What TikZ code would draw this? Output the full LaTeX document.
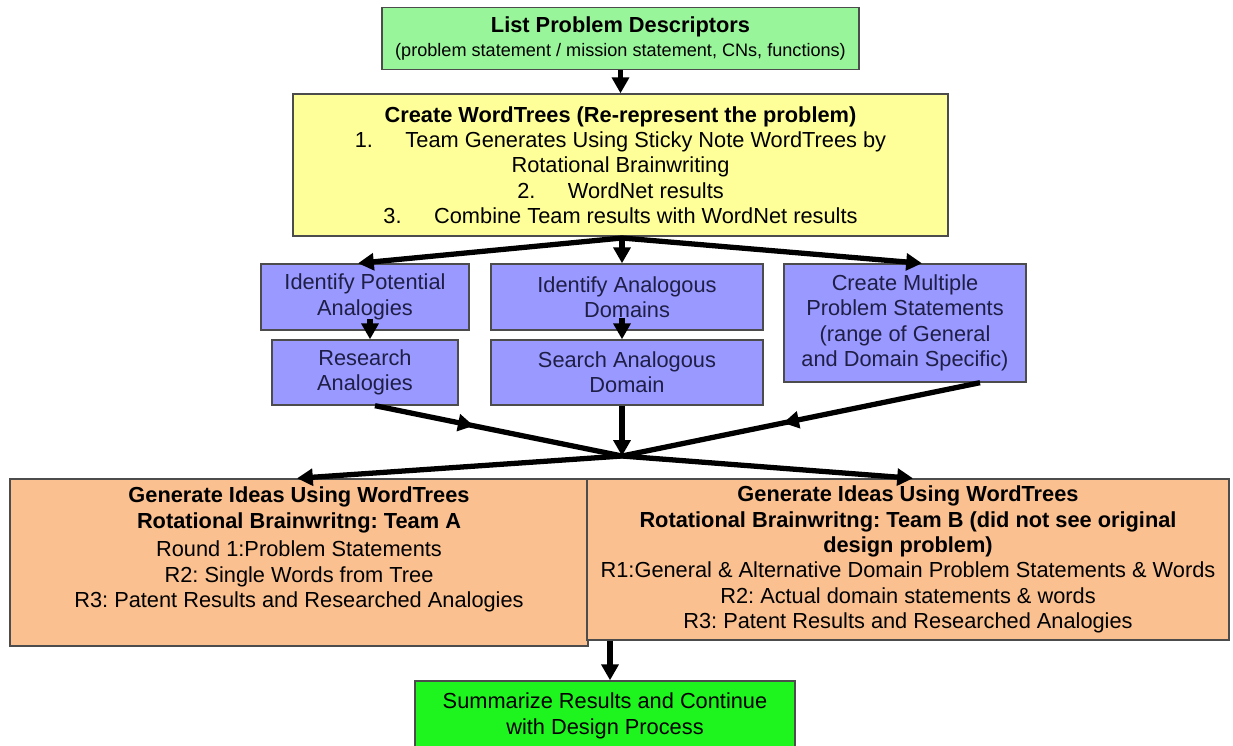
\documentclass[tikz,border=0pt]{standalone}
\usepackage{fontspec}
\setmainfont{Liberation Sans}
\usetikzlibrary{arrows.meta,decorations.markings}
\frenchspacing

\definecolor{descgreen}{RGB}{153,245,153}
\definecolor{treeyellow}{RGB}{255,255,153}
\definecolor{analogblue}{RGB}{153,153,255}
\definecolor{analogtext}{RGB}{30,30,70}
\definecolor{ideaorange}{RGB}{250,192,144}
\definecolor{sumgreen}{RGB}{30,245,30}

\begin{document}
\begin{tikzpicture}[x=0.02cm, y=-0.02cm,
  stepbox/.style={draw=black!70, line width=0.8pt, align=center, inner sep=0pt, font=\fontsize{12.4}{14.4}\selectfont},
  analogbox/.style={stepbox, fill=analogblue, text=analogtext},
  flow/.style={line width=3pt, -{Triangle[length=9pt,width=9.5pt]}},
  midflow/.style={line width=3pt, postaction={decorate},
    decoration={markings, mark=at position #1 with {\arrow{Triangle[length=9pt,width=9.5pt]}}}}]
\useasboundingbox (0,0) rectangle (1233,746);

\node[stepbox, fill=descgreen, minimum width=9.54cm, minimum height=1.24cm] (desc) at (620.5,38.5)
  {\textbf{List Problem Descriptors}\\[-1pt]{\fontsize{10.3}{12}\selectfont(problem statement / mission statement, CNs, functions)}};
\node[stepbox, fill=treeyellow, minimum width=13.1cm, minimum height=2.84cm] (trees) at (620.5,165)
  {\textbf{Create WordTrees (Re-represent the problem)}\\
   1.\hspace{0.65cm}Team Generates Using Sticky Note WordTrees by\\
   Rotational Brainwriting\\
   2.\hspace{0.65cm}WordNet results\\
   3.\hspace{0.65cm}Combine Team results with WordNet results};

\node[analogbox, minimum width=4.16cm, minimum height=1.32cm] (analog) at (365,297) {Identify Potential\\Analogies};
\node[analogbox, minimum width=3.72cm, minimum height=1.3cm] (research) at (365,372.5) {Research\\Analogies};
\node[analogbox, minimum width=5.44cm, minimum height=1.32cm] (domain) at (627,297) {Identify Analogous\\Domains};
\node[analogbox, minimum width=5.44cm, minimum height=1.3cm] (search) at (627,372.5) {Search Analogous\\Domain};
\node[analogbox, minimum width=4.84cm, minimum height=2.36cm] (multi) at (905,323)
  {Create Multiple\\Problem Statements\\(range of General\\and Domain Specific)};

\node[stepbox, fill=ideaorange, minimum width=11.56cm, minimum height=3.34cm] (teamA) at (299,562.5)
  {\begin{minipage}[c][3.02cm][t]{11.5cm}\centering
   \textbf{Generate Ideas Using WordTrees}\\
   \textbf{Rotational Brainwritng: Team A}\\[2pt]
   Round 1:Problem Statements\\
   R2: Single Words from Tree\\
   R3: Patent Results and Researched Analogies\end{minipage}};
\node[stepbox, fill=ideaorange, minimum width=12.84cm, minimum height=3.22cm] (teamB) at (908,559.5)
  {\textbf{Generate Ideas Using WordTrees}\\
   \textbf{Rotational Brainwritng: Team B (did not see original}\\
   \textbf{design problem)}\\
   R1:General \& Alternative Domain Problem Statements \& Words\\
   R2: Actual domain statements \& words\\
   R3: Patent Results and Researched Analogies};

\node[stepbox, fill=sumgreen, minimum width=7.6cm, minimum height=1.4cm] (sum) at (605,716)
  {Summarize Results and Continue\\with Design Process};

\coordinate (split) at (622,238);
\coordinate (join) at (622,456);
\draw[flow] (desc.south) -- (trees.north);
\draw[flow] (split) -- ([xshift=-0.14cm]analog.north);
\draw[flow] (split) -- (domain.north -| split);
\draw[flow] (split) -- ([xshift=0.34cm]multi.north);
\draw[flow] ([xshift=0.1cm,yshift=0.24cm]analog.south) -- ([xshift=0.1cm]research.north);
\draw[flow] ([yshift=0.26cm]domain.south -| split) -- (search.north -| split);
\draw[flow] (search.south -| join) -- (join);
\draw[midflow=0.4] ([xshift=0.2cm]research.south) -- (join);
\draw[midflow=0.55] ([xshift=1.5cm]multi.south) -- (join);
\draw[flow] (join) -- ([xshift=-0.04cm]teamA.north);
\draw[flow] (join) -- ([xshift=0.1cm]teamB.north);
\draw[flow] ([xshift=0.1cm]sum.north |- teamB.south) -- ([xshift=0.1cm]sum.north);
\end{tikzpicture}
\end{document}
